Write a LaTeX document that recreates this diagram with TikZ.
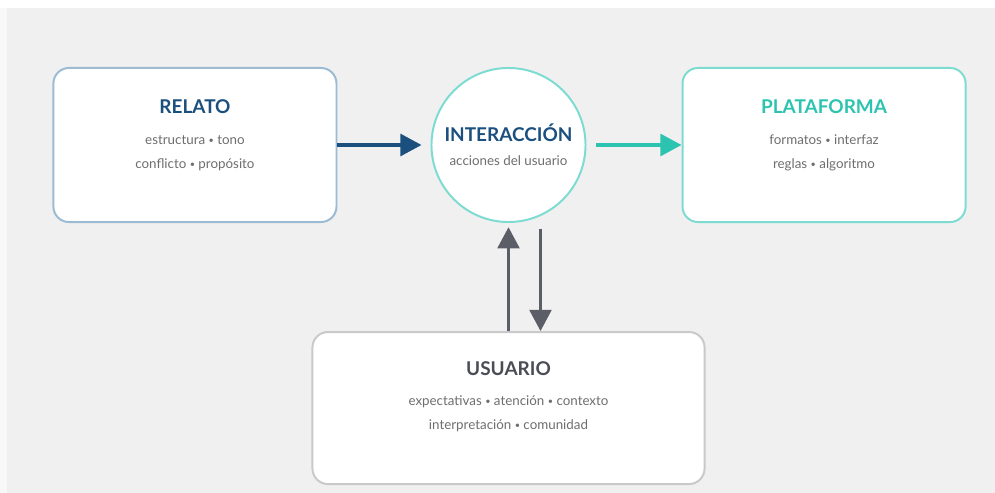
\documentclass[tikz,border=0pt]{standalone}
\usepackage{fontspec}
\setmainfont{Lato}
\usepackage{xcolor}
\usepackage{tikz}
\usetikzlibrary{arrows.meta,positioning,calc}

\definecolor{fondo}{HTML}{F0F0F0}
\definecolor{fondoclaro}{HTML}{F8F8F8}
\definecolor{azul}{HTML}{1B4F7E}
\definecolor{azulborde}{HTML}{9BBBD4}
\definecolor{turquesa}{HTML}{2CC4B0}
\definecolor{turquesaborde}{HTML}{7DDCD1}
\definecolor{grisoscuro}{HTML}{4A4D55}
\definecolor{grisflecha}{HTML}{5B5E66}
\definecolor{gristexto}{HTML}{6E6E6E}
\definecolor{grisborde}{HTML}{C9C9C9}
\newcommand\punto{\raisebox{0.12ex}{\fontsize{6.5}{7}\selectfont•}}

\begin{document}
\begin{tikzpicture}[x=0.025cm,y=-0.025cm,
	caja/.style={rectangle, draw, line width=1.4pt, rounded corners=11pt, fill=white, inner sep=0pt, minimum width=7.075cm, minimum height=3.85cm},
	titulo/.style={anchor=base, inner sep=0pt, font=\fontsize{13.5}{16}\selectfont\bfseries},
	texto/.style={anchor=base, inner sep=0pt, text=gristexto, font=\fontsize{9.5}{11}\selectfont},
	flecha/.style={line width=2.4pt, -{Triangle[length=15pt, width=15.5pt]}}]

% fondo
\useasboundingbox (0,0) rectangle (995,493);
\fill[white] (0,0) rectangle (995,493);
\fill[fondo] (7,8) rectangle (995,493);
\fill[fondoclaro] (0,8) rectangle (7,493);

% centro
\node[circle, draw=turquesaborde, line width=1.4pt, fill=white, inner sep=0pt, minimum size=3.85cm] (interaccion) at (508.5,145) {};
\node[caja, draw=azulborde, left=2.325cm of interaccion] (relato) {};
\node[caja, draw=turquesaborde, right=2.375cm of interaccion] (plataforma) {};
\node[caja, draw=grisborde, minimum width=9.8cm, minimum height=3.8cm, below=2.7cm of interaccion] (usuario) {};

% textos
\node[titulo, text=azul] (relatoT) at ($(relato.center)+(0,-32)$) {RELATO};
\node[texto] (relatoA) at ($(relato.center)+(0,-1)$) {estructura \punto{} tono};
\node[texto] (relatoB) at ($(relato.center)+(0,23)$) {conflicto \punto{} propósito};

\node[titulo, text=azul] (interaccionT) at ($(interaccion.center)+(0,-4)$) {INTERACCIÓN};
\node[texto] (interaccionA) at ($(interaccion.center)+(0,20)$) {acciones del usuario};

\node[titulo, text=turquesa] (plataformaT) at ($(plataforma.center)+(0,-32)$) {PLATAFORMA};
\node[texto] (plataformaA) at ($(plataforma.center)+(0,-1)$) {formatos \punto{} interfaz};
\node[texto] (plataformaB) at ($(plataforma.center)+(0,23)$) {reglas \punto{} algoritmo};

\node[titulo, text=grisoscuro] (usuarioT) at ($(usuario.center)+(0,-33)$) {USUARIO};
\node[texto] (usuarioA) at ($(usuario.center)+(0,-3)$) {expectativas \punto{} atención \punto{} contexto};
\node[texto] (usuarioB) at ($(usuario.center)+(0,21)$) {interpretación \punto{} comunidad};

% flechas
\draw[flecha, azul, shorten >=6.4pt] (relato) -- (interaccion);
\draw[flecha, turquesa, shorten <=7pt] (interaccion) -- (plataforma);
\draw[flecha, grisflecha, line width=2pt, shorten >=3pt] (usuario.north) -- (interaccion.south);
\draw[flecha, grisflecha, line width=2pt] ($(interaccion.south)+(32,6)$) -- ($(usuario.north)+(32,0)$);

\end{tikzpicture}
\end{document}
